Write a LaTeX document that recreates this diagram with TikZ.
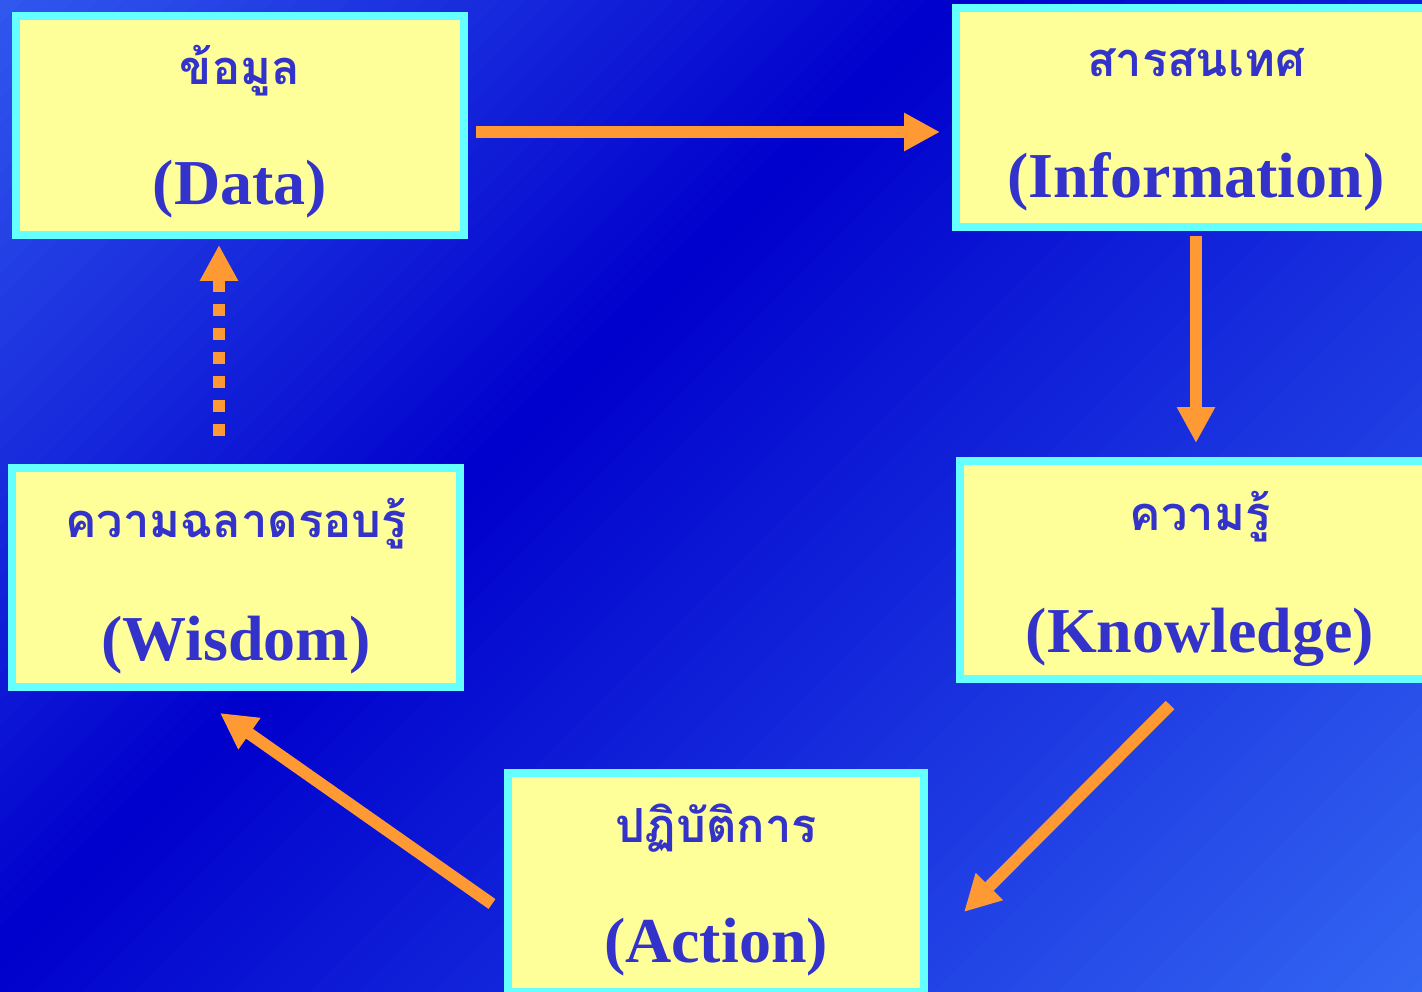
\documentclass[tikz,border=0pt]{standalone}
\usepackage{fontspec}
\setmainfont{Liberation Serif}
\newfontfamily\thaifont[Script=Thai]{Loma}
\usetikzlibrary{arrows.meta}
\definecolor{bgA}{HTML}{3158EE}
\definecolor{bgD}{HTML}{0000CC}
\definecolor{bgB}{HTML}{3366F2}
\definecolor{boxfill}{HTML}{FFFF99}
\definecolor{boxline}{HTML}{66FFFF}
\definecolor{txt}{HTML}{3333CC}
\definecolor{arr}{HTML}{FF9933}
\begin{document}
\begin{tikzpicture}[x=1pt,y=-1pt,
  box/.style={draw=boxline, line width=8pt, fill=boxfill, rectangle, inner sep=0pt, outer sep=0pt},
  th/.style={font=\thaifont\bfseries\fontsize{47}{56}\selectfont, text=txt, anchor=base, inner sep=0pt},
  en/.style={font=\bfseries\fontsize{64}{72}\selectfont, text=txt, anchor=base, inner sep=0pt},
  flow/.style={draw=arr, line width=12pt, -{Triangle[length=36pt,width=36pt]}},
  dflow/.style={flow, dash pattern=on 12pt off 12pt}]
\useasboundingbox (0,0) rectangle (1422,992);
\clip (0,0) rectangle (1422,992);
% background gradient
\foreach \i in {0,...,97}{
  \pgfmathsetmacro\s{\i*25}
  \pgfmathsetmacro\e{\s+26}
  \pgfmathsetmacro\m{\s+12.5}
  \ifdim\m pt<950pt
    \pgfmathsetmacro\p{100-\m/9.5}
    \colorlet{cc}{bgA!\p!bgD}
  \else
    \pgfmathsetmacro\p{min(100,(\m-950)/14.64)}
    \colorlet{cc}{bgB!\p!bgD}
  \fi
  \fill[cc] (\s,0) -- (\e,0) -- (\e-1000,1000) -- (\s-1000,1000) -- cycle;
}
% boxes
\node[box, minimum width=448pt, minimum height=219pt] (data) at (240,125.5) {};
\node[box, minimum width=480pt, minimum height=219pt] (info) at (1196,117.5) {};
\node[box, minimum width=480pt, minimum height=218pt] (know) at (1200,570) {};
\node[box, minimum width=448pt, minimum height=219pt] (wisdom) at (236,577.5) {};
\node[box, minimum width=416pt, minimum height=219pt] (action) at (716,882.5) {};
% texts
\node[th] (dataTh) at (240,85) {ข้อมูล};
\node[en] (dataEn) at (240,205) {(Data)};
\node[th] (infoTh) at (1196,77) {สารสนเทศ};
\node[en] (infoEn) at (1196,198) {(Information)};
\node[th] (knowTh) at (1200,530) {ความรู้};
\node[en] (knowEn) at (1200,652) {(Knowledge)};
\node[th] (wisTh) at (236,537) {ความฉลาดรอบรู้};
\node[en] (wisEn) at (236,660) {(Wisdom)};
\node[th] (actTh) at (716,842) {ปฏิบัติการ};
\node[en] (actEn) at (716,962) {(Action)};
% arrows
\draw[flow] ([shift={(12,6.5)}]data.east) -- ([shift={(-16,14.5)}]info.west);
\draw[flow] ([shift={(0,9)}]info.south) -- ([shift={(-4,-18)}]know.north);
\draw[flow] ([shift={(-30,26)}]know.south) -- ([shift={(40,29.5)}]action.east);
\draw[flow] ([shift={(-16,21.5)}]action.west) -- ([shift={(-16,26)}]wisdom.south);
\draw[dflow] ([shift={(-17,-32)}]wisdom.north) -- ([shift={(-21,10)}]data.south);
\end{tikzpicture}
\end{document}
